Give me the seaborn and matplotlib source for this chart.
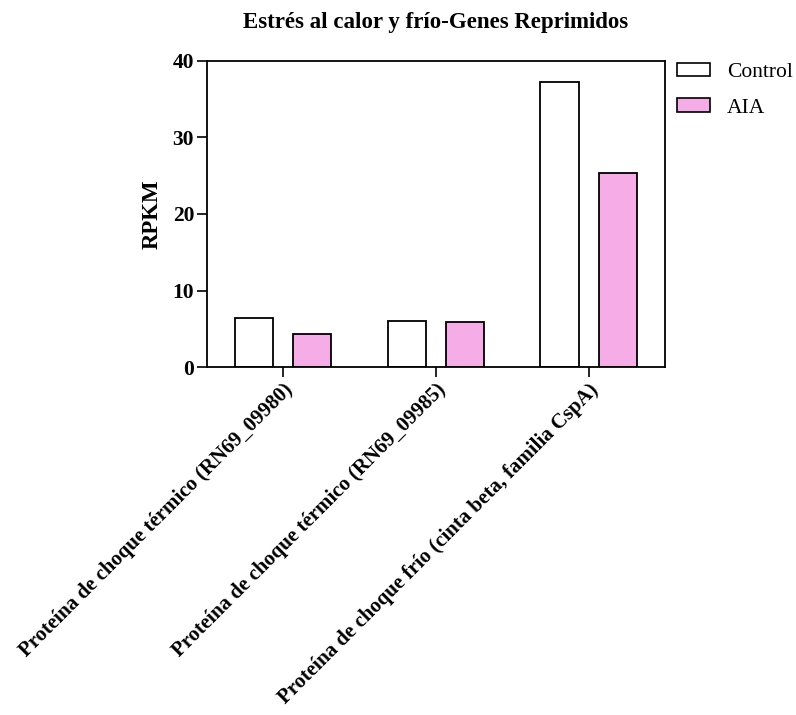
import matplotlib
matplotlib.use("Agg")
import matplotlib.pyplot as plt
from matplotlib.patches import Patch
import seaborn as sns
import pandas as pd

# Expression values (RPKM) per gene and condition
genes = [
    "Proteína de choque térmico (RN69_09980)",
    "Proteína de choque térmico (RN69_09985)",
    "Proteína de choque frío (cinta beta, familia CspA)",
]
conditions = ["Control", "AIA"]
control_rpkm = [6.45, 5.95, 37.3]
aia_rpkm = [4.3, 5.85, 25.4]
y_ticks = [0, 10, 20, 30, 40]

colors = {"Control": "#FFFFFF", "AIA": "#F6ACE6"}

df = pd.DataFrame({
    "gene": genes * 2,
    "condition": [conditions[0]] * 3 + [conditions[1]] * 3,
    "rpkm": control_rpkm + aia_rpkm,
})

sns.set_theme(style="white")
plt.rcParams["font.family"] = ["Liberation Serif", "DejaVu Serif"]
plt.rcParams["text.color"] = "black"
plt.rcParams["axes.labelcolor"] = "black"
plt.rcParams["xtick.color"] = "black"
plt.rcParams["ytick.color"] = "black"

fig = plt.figure(figsize=(7.96, 7.15), dpi=100)
ax = fig.add_axes([0.26, 0.4867, 0.5754, 0.428])

sns.barplot(data=df, x="gene", y="rpkm", hue="condition", order=genes,
            hue_order=conditions, palette=colors, saturation=1,
            width=0.76, gap=0.34, edgecolor="black", linewidth=1.3,
            errorbar=None, ax=ax)

ax.set_xlim(-0.5, 2.5)
ax.set_ylim(0, 40)
ax.set_yticks(y_ticks)
ax.set_yticklabels([str(t) for t in y_ticks], fontsize=15.5,
                   fontweight="bold", color="black")
ax.set_xticks(range(len(genes)))
ax.set_xticklabels(genes, rotation=45, ha="right", rotation_mode="anchor",
                   fontsize=15, fontweight="bold", color="black")
ax.tick_params(axis="both", direction="out", length=7.2, width=1.2,
               colors="black", bottom=True, left=True, pad=2)
for sp in ax.spines.values():
    sp.set_visible(True)
    sp.set_color("black")
    sp.set_linewidth(1.3)

ax.set_xlabel("")
ax.set_ylabel("RPKM", fontsize=16.5, fontweight="bold", color="black")
ax.yaxis.set_label_coords(-0.096, 0.5)
ax.set_title("Estrés al calor y frío-Genes Reprimidos", fontsize=16.5,
             fontweight="bold", color="black", pad=24)

if ax.get_legend() is not None:
    ax.get_legend().remove()
handles = [Patch(facecolor=colors[c], edgecolor="black", linewidth=1.2)
           for c in conditions]
fig.legend(handles, conditions, loc="upper left",
           bbox_to_anchor=(0.850, 0.912), frameon=False, fontsize=15.5,
           handlelength=1.55, handleheight=0.59, labelspacing=0.75,
           handletextpad=0.78, borderpad=0, borderaxespad=0)

fig.savefig("out.png", dpi=100, facecolor="white")
